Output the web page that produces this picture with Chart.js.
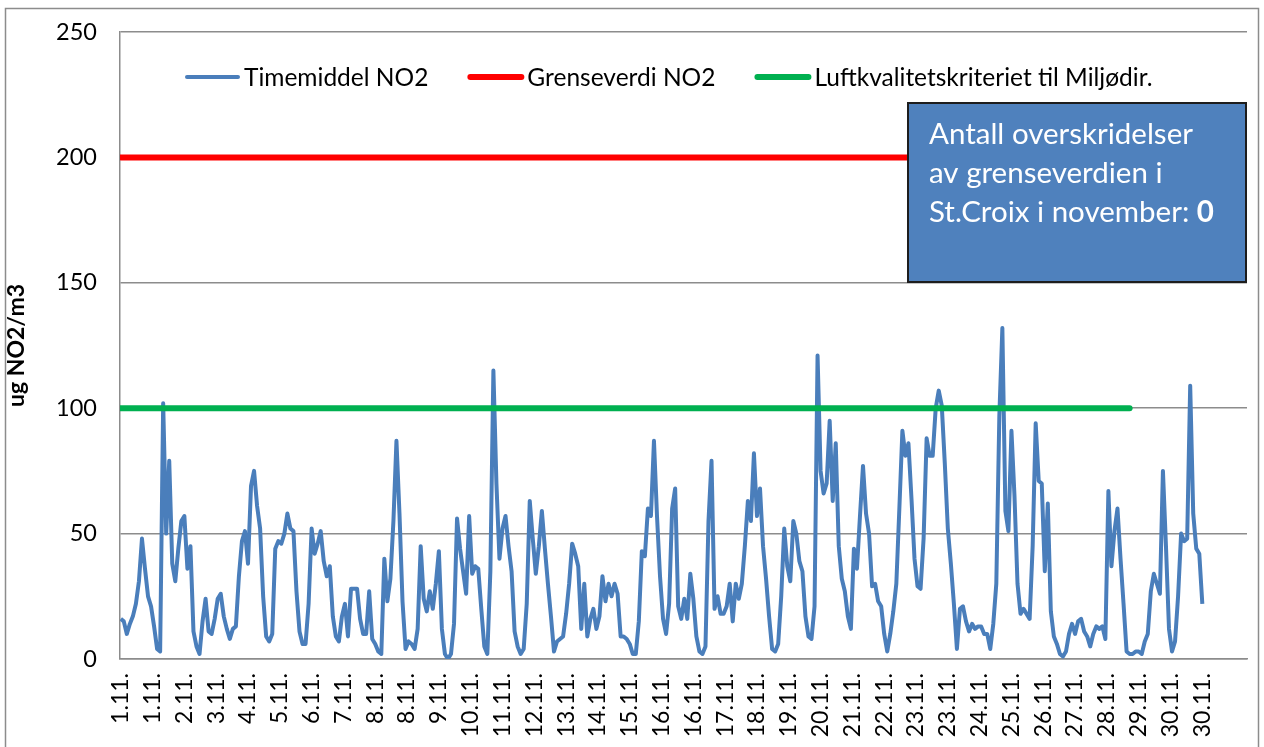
<!DOCTYPE html>
<html lang="no">
<head>
<meta charset="utf-8">
<title>Timemiddel NO2 - St.Croix november</title>
<script src="https://cdn.jsdelivr.net/npm/chart.js@4.4.1/dist/chart.umd.min.js"></script>
<style>
  html, body { margin: 0; padding: 0; background: #fff; }
  #wrap { width: 1264px; height: 747px; }
</style>
</head>
<body>
<div id="wrap"><canvas id="no2Chart" width="1264" height="747"></canvas></div>
<script>
// ---------------------- DATA ----------------------
const tickLabels = [
  "1.11.", "1.11.", "2.11.", "3.11.", "4.11.", "5.11.", "6.11.", "7.11.", "8.11.", "8.11.",
  "9.11.", "10.11.", "11.11.", "12.11.", "13.11.", "14.11.", "15.11.", "16.11.", "16.11.",
  "17.11.", "18.11.", "19.11.", "20.11.", "21.11.", "22.11.", "23.11.", "23.11.", "24.11.",
  "25.11.", "26.11.", "27.11.", "28.11.", "29.11.", "30.11.", "30.11."
];
const tickEveryHours = 21;
const totalHours = 744;
const sampleStepHours = 2;

// NO2 (ug/m3), read every 2nd hour from 1.11. 00:00
const no2 = [
  16, 15, 10, 14, 17, 22, 31, 48, 36, 25, 21, 13, 4, 3, 102, 50, 79, 38, 31, 44,
  55, 57, 36, 45, 11, 5, 2, 15, 24, 11, 10, 16, 24, 26, 17, 12, 8, 12, 13, 33,
  47, 51, 38, 69, 75, 61, 52, 25, 9, 7, 10, 44, 47, 46, 50, 58, 52, 51, 27, 11,
  6, 6, 22, 52, 42, 46, 51, 39, 33, 37, 17, 9, 7, 17, 22, 9, 28, 28, 28, 16,
  10, 10, 27, 8, 6, 3, 2, 40, 23, 32, 55, 87, 58, 23, 4, 7, 6, 4, 12, 45,
  24, 19, 27, 20, 30, 43, 12, 2, 0, 2, 14, 56, 44, 35, 26, 57, 34, 37, 36, 20,
  5, 2, 35, 115, 70, 40, 52, 57, 45, 35, 11, 5, 2, 4, 22, 63, 48, 34, 45, 59,
  44, 30, 17, 3, 7, 8, 9, 18, 30, 46, 42, 37, 12, 30, 9, 16, 20, 12, 17, 33,
  23, 30, 25, 30, 26, 9, 9, 8, 6, 2, 2, 15, 43, 41, 60, 57, 87, 57, 33, 16,
  10, 22, 60, 68, 21, 16, 24, 16, 34, 24, 9, 3, 2, 5, 55, 79, 20, 25, 18, 18,
  21, 30, 15, 30, 24, 30, 45, 63, 55, 82, 57, 68, 45, 32, 17, 4, 3, 6, 25, 52,
  37, 31, 55, 50, 39, 35, 17, 9, 8, 21, 121, 75, 66, 70, 95, 63, 86, 45, 32, 27,
  17, 12, 44, 36, 57, 77, 58, 50, 29, 30, 23, 21, 10, 3, 10, 19, 30, 60, 91, 81,
  86, 64, 40, 29, 28, 48, 88, 81, 81, 100, 107, 101, 78, 52, 38, 22, 4, 20, 21, 15,
  11, 14, 12, 13, 13, 10, 10, 4, 14, 30, 97, 132, 59, 51, 91, 65, 30, 18, 20, 18,
  16, 45, 94, 71, 70, 35, 62, 19, 9, 6, 2, 1, 3, 10, 14, 10, 15, 16, 11, 9,
  5, 10, 13, 12, 13, 8, 67, 37, 51, 60, 40, 22, 3, 2, 2, 3, 3, 2, 7, 10,
  27, 34, 30, 26, 75, 45, 12, 3, 7, 25, 50, 47, 48, 109, 58, 44, 42, 22
];

const limitValue = 200;      // Grenseverdi NO2
const criterionValue = 100;  // Luftkvalitetskriteriet
const referenceEndHour = 666;
const exceedances = 0;

const tickHours = tickLabels.map((_, i) => i * tickEveryHours);
const FONT = "Lato, 'Open Sans', sans-serif";

// ---------------------- PLUGINS ----------------------
const framePlugin = {
  id: "frame",
  beforeDraw(chart) {
    const { ctx, width, height } = chart;
    ctx.save();
    ctx.fillStyle = "#fff";
    ctx.fillRect(0, 0, width, height);
    ctx.strokeStyle = "#8c8c8c";
    ctx.lineWidth = 1.5;
    ctx.strokeRect(5.5, 8.5, width - 11, height + 20);
    ctx.restore();
  },
};

// legend drawn inside the plot, one row
const insideLegend = {
  id: "insideLegend",
  afterDraw(chart) {
    const { ctx, chartArea } = chart;
    const sampleW = 55, gap = 4, itemGap = 40;
    const y = chartArea.top + 45;
    let x = chartArea.left + 65;
    ctx.save();
    ctx.font = `24.5px ${FONT}`;
    ctx.textBaseline = "middle";
    chart.data.datasets.forEach((ds) => {
      ctx.strokeStyle = ds.borderColor;
      ctx.lineWidth = ds.borderWidth;
      ctx.lineCap = "round";
      ctx.beginPath();
      ctx.moveTo(x + 2, y);
      ctx.lineTo(x + sampleW - 2, y);
      ctx.stroke();
      ctx.fillStyle = "#000";
      ctx.fillText(ds.label, x + sampleW + gap, y + 1);
      x += sampleW + gap + ctx.measureText(ds.label).width + itemGap;
    });
    ctx.restore();
  },
};

// "Antall overskridelser" note box
const notePlugin = {
  id: "noteBox",
  afterDatasetsDraw(chart) {
    const { ctx, chartArea } = chart;
    const w = 338, h = 179;
    const left = chartArea.right - w - 1;
    const top = chartArea.top + 71;
    ctx.save();
    ctx.fillStyle = "#4F81BD";
    ctx.fillRect(left, top, w, h);
    ctx.strokeStyle = "#1d1d1d";
    ctx.lineWidth = 2;
    ctx.strokeRect(left, top, w, h);
    ctx.fillStyle = "#fff";
    ctx.textBaseline = "middle";
    ctx.font = `29.5px ${FONT}`;
    const tx = left + 21;
    ctx.fillText("Antall overskridelser", tx, top + 31);
    ctx.fillText("av grenseverdien i", tx, top + 70);
    const last = "St.Croix i november: ";
    ctx.fillText(last, tx, top + 109);
    const lw = ctx.measureText(last).width;
    ctx.font = `bold 29.5px ${FONT}`;
    ctx.fillText(String(exceedances), tx + lw, top + 109);
    ctx.restore();
  },
};

// ---------------------- CHART ----------------------
new Chart(document.getElementById("no2Chart"), {
  type: "line",
  data: {
    datasets: [
      {
        label: "Timemiddel NO2",
        data: no2.map((v, i) => ({ x: i * sampleStepHours, y: v })),
        borderColor: "#4A7EBB",
        borderWidth: 4,
        borderJoinStyle: "round",
        pointRadius: 0,
        tension: 0,
        order: 3,
      },
      {
        label: "Grenseverdi NO2",
        data: [{ x: 0, y: limitValue }, { x: referenceEndHour, y: limitValue }],
        borderColor: "#FF0000",
        borderWidth: 6,
        borderCapStyle: "round",
        pointRadius: 0,
        order: 2,
      },
      {
        label: "Luftkvalitetskriteriet til Miljødir.",
        data: [{ x: 0, y: criterionValue }, { x: referenceEndHour, y: criterionValue }],
        borderColor: "#00B050",
        borderWidth: 6,
        borderCapStyle: "round",
        pointRadius: 0,
        order: 1,
      },
    ],
  },
  options: {
    responsive: false,
    animation: false,
    devicePixelRatio: 1,
    layout: { padding: { top: 32, right: 17, bottom: 0, left: 0 } },
    plugins: { legend: { display: false }, tooltip: { enabled: false } },
    scales: {
      x: {
        type: "linear",
        min: -0.5,
        max: totalHours - 0.5,
        grid: { display: false, drawTicks: false },
        border: { display: true, color: "#8c8c8c", width: 1.5 },
        afterBuildTicks: (scale) => {
          scale.ticks = tickHours.map((v) => ({ value: v }));
        },
        afterFit: (scale) => {
          scale.height = 88;
          scale.paddingLeft = 0;
          scale.paddingRight = 0;
        },
        ticks: {
          autoSkip: false,
          minRotation: 90,
          maxRotation: 90,
          padding: 14,
          color: "#000",
          font: { family: FONT, size: 23 },
          callback: (value, index) => tickLabels[index],
        },
      },
      y: {
        min: 0,
        max: 250,
        afterFit: (scale) => {
          scale.width = 120;
          scale.paddingTop = 0;
          scale.paddingBottom = 0;
        },
        grid: { color: "#8c8c8c", lineWidth: 1.5, drawTicks: false },
        border: { display: true, color: "#8c8c8c", width: 1.5 },
        ticks: {
          stepSize: 50,
          padding: 23,
          color: "#000",
          font: { family: FONT, size: 23.5 },
        },
        title: {
          display: true,
          text: "ug NO2/m3",
          color: "#000",
          font: { family: FONT, size: 23, weight: "bold" },
          padding: { top: 3, bottom: 0 },
        },
      },
    },
  },
  plugins: [framePlugin, notePlugin, insideLegend],
});
</script>
</body>
</html>
